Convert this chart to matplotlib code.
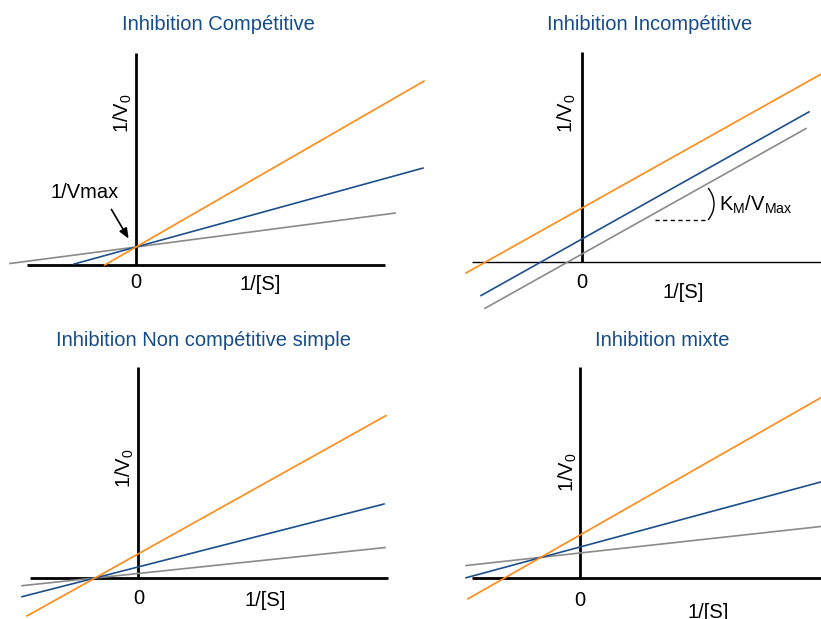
import numpy as np
import matplotlib
matplotlib.use("Agg")
import matplotlib.pyplot as plt
from matplotlib.patches import Arc

plt.rcParams['font.family'] = ['Liberation Sans', 'DejaVu Sans']
plt.rcParams['mathtext.fontset'] = 'custom'
plt.rcParams['mathtext.rm'] = 'Liberation Sans'
plt.rcParams['mathtext.default'] = 'regular'

# ---- data (series order: no inhibitor (gray), inhibitor low (blue), inhibitor high (orange)) ----
titles = ["Inhibition Compétitive", "Inhibition Incompétitive",
          "Inhibition Non compétitive simple", "Inhibition mixte"]
series_colors = ["#8a8a8a", "#1c4f8c", "#ff8a14"]

comp_intercepts = [0.18, 0.18, 0.18]
comp_slopes = [0.131, 0.275, 0.576]
comp_x_start = [-1.26, -0.62, -0.3125]
comp_x_end = [2.59, 2.87, 2.88]

uncomp_intercepts = [0.08, 0.23, 0.54]
uncomp_slopes = [0.56, 0.56, 0.56]
uncomp_x_start = [-0.97, -1.01, -1.16]
uncomp_x_end = [2.24, 2.27, 2.42]

noncomp_intercepts = [0.045, 0.11, 0.24]
noncomp_slopes = [0.105, 0.256, 0.558]
noncomp_x_start = [-1.16, -1.16, -1.11]
noncomp_x_end = [2.47, 2.46, 2.48]

mixed_intercepts = [0.25, 0.31, 0.43]
mixed_slopes = [0.11, 0.27, 0.57]
mixed_x_start = [-1.14, -1.14, -1.12]
mixed_x_end = [2.42, 2.42, 2.42]

# ---- layout ----
W, H = 821, 619
fig = plt.figure(figsize=(W / 100, H / 100), dpi=100)
fig.patch.set_facecolor("white")

# pixel boxes (x0, y0_top, x1, y1_bottom) and origin pixels
panels = [
    dict(box=(0, 0, 430, 310), origin=(136, 265),
         b=comp_intercepts, m=comp_slopes, xs=comp_x_start, xe=comp_x_end,
         haxis=(-1.09, 2.49), vaxis=(0, 2.12), hlw=2.0,
         title_pos=(0.82, 2.41), zero_pos=(0, -0.18), s_pos=(1.24, -0.20), v_pos=(-0.13, 1.52)),
    dict(box=(430, 0, 821, 310), origin=(582, 262),
         b=uncomp_intercepts, m=uncomp_slopes, xs=uncomp_x_start, xe=uncomp_x_end,
         haxis=(-1.10, 2.45), vaxis=(0, 2.10), hlw=1.0,
         title_pos=(0.68, 2.38), zero_pos=(0, -0.20), s_pos=(1.01, -0.30), v_pos=(-0.15, 1.49)),
    dict(box=(0, 310, 430, 619), origin=(138, 578),
         b=noncomp_intercepts, m=noncomp_slopes, xs=noncomp_x_start, xe=noncomp_x_end,
         haxis=(-1.08, 2.50), vaxis=(0, 2.11), hlw=2.0,
         title_pos=(0.65, 2.38), zero_pos=(0.01, -0.20), s_pos=(1.27, -0.22), v_pos=(-0.13, 1.10)),
    dict(box=(430, 310, 821, 619), origin=(580, 578),
         b=mixed_intercepts, m=mixed_slopes, xs=mixed_x_start, xe=mixed_x_end,
         haxis=(-1.08, 2.45), vaxis=(0, 2.11), hlw=2.0,
         title_pos=(0.82, 2.38), zero_pos=(0, -0.22), s_pos=(1.28, -0.34), v_pos=(-0.12, 1.06)),
]

axes = []
for i, p in enumerate(panels):
    x0, y0, x1, y1 = p["box"]
    ox, oy = p["origin"]
    ax = fig.add_axes([x0 / W, 1 - y1 / H, (x1 - x0) / W, (y1 - y0) / H])
    ax.set_xlim((x0 - ox) / 100, (x1 - ox) / 100)
    ax.set_ylim((oy - y1) / 100, (oy - y0) / 100)
    ax.axis("off")
    # axes lines
    ax.plot(list(p["haxis"]), [0, 0], color="black", lw=p["hlw"], solid_capstyle="butt", clip_on=False, zorder=2)
    ax.plot([0, 0], list(p["vaxis"]), color="black", lw=2.0, solid_capstyle="butt", clip_on=False, zorder=2)
    # series
    for b, m, xs, xe, c in zip(p["b"], p["m"], p["xs"], p["xe"], series_colors):
        x = np.array([xs, xe])
        ax.plot(x, b + m * x, color=c, lw=1.2, clip_on=False, zorder=3)
    ax.text(*p["title_pos"], titles[i], ha="center", va="center", fontsize=14.5, color="#154c8a")
    ax.text(*p["zero_pos"], "0", ha="center", va="center", fontsize=14.5, color="black")
    ax.text(*p["s_pos"], "1/[S]", ha="center", va="center", fontsize=14.5, color="black")
    ax.text(*p["v_pos"], "1/V$_0$", ha="center", va="center", rotation=90, fontsize=14.5, color="black")
    axes.append(ax)

# annotations
ax1 = axes[0]
ax1.annotate("", xy=(-0.06, 0.24), xytext=(-0.26, 0.58),
             arrowprops=dict(arrowstyle="-|>,head_length=0.6,head_width=0.25", color="black", lw=1.2))
ax1.text(-0.51, 0.72, "1/Vmax", ha="center", va="center", fontsize=14.5, color="black")

ax2 = axes[1]
ax2.plot([0.73, 1.26], [0.42, 0.42], color="black", lw=1.0, linestyle=(0, (3, 2.5)))
ax2.add_patch(Arc((1.077, 0.58), 0.486, 0.486, theta1=-41, theta2=41, color="black", lw=1.0))
ax2.text(1.37, 0.57, "K$_M$/V$_{Max}$", ha="left", va="center", fontsize=14.5, color="black")

fig.savefig("out.png", dpi=100, facecolor="white")
